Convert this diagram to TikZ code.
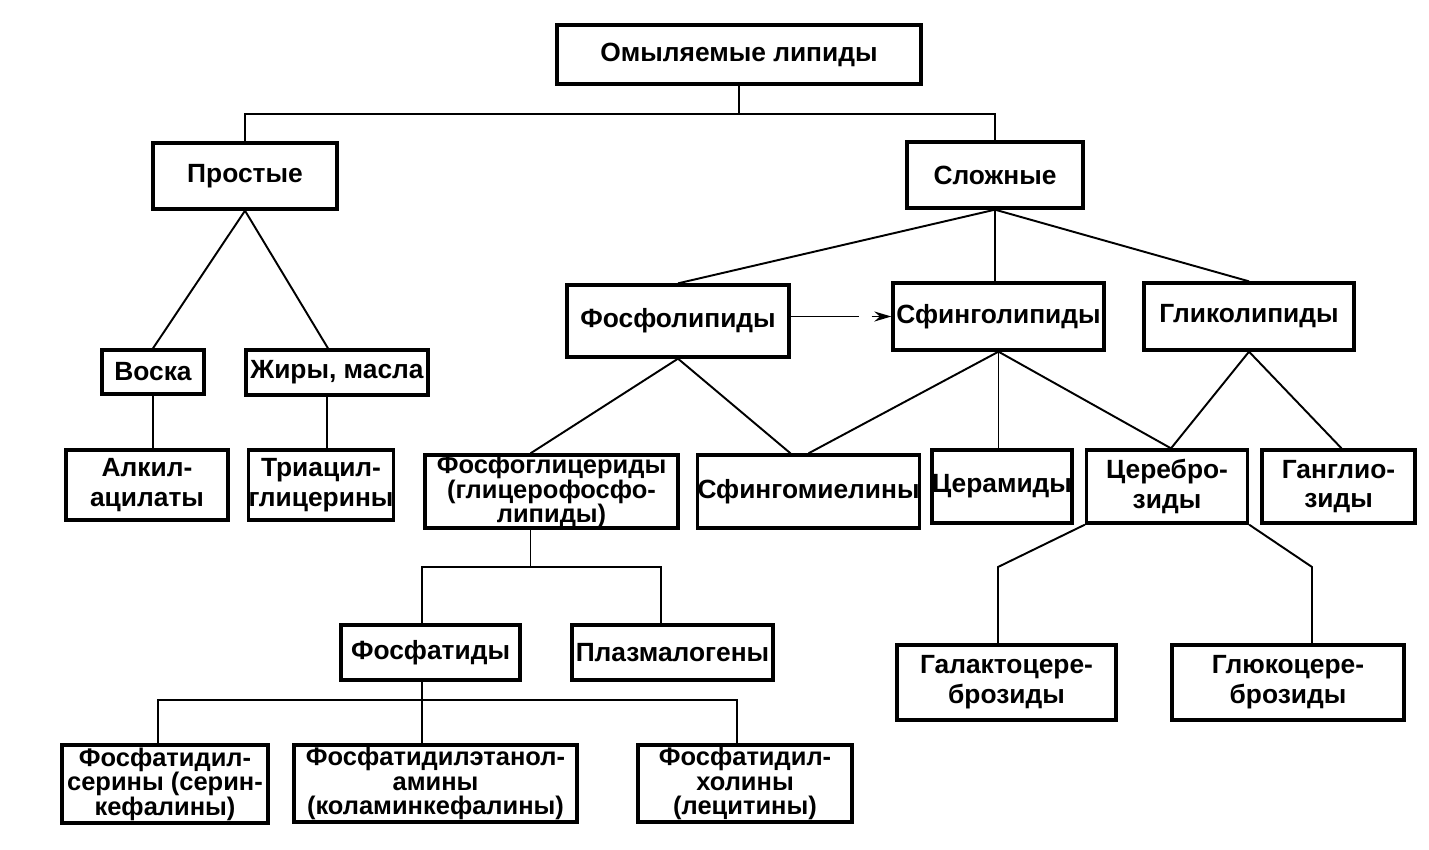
\documentclass[tikz,border=0pt]{standalone}
\usepackage{fontspec}
\setmainfont{Liberation Sans}
\usetikzlibrary{calc,arrows.meta}

\begin{document}
\begin{tikzpicture}[x=0.02cm, y=-0.02cm,
	lipid/.style={draw, line width=1.9pt, align=center, inner sep=0pt, font=\fontsize{15}{17}\selectfont\bfseries},
	tight/.style={font=\fontsize{14.5}{14}\selectfont\bfseries},
	link/.style={line width=1.1pt},
	dasharrow/.style={line width=1.1pt, dash pattern=on 1.36cm off 0.26cm, -{Stealth[length=0.34cm, width=0.2cm]}}]
			%%%%% START %%%%%
			
			\fill[white] (0, 0) rectangle (1429, 849);
			
			% top level
			\node[lipid, minimum width=7.28cm, minimum height=1.18cm] (top) at (739, 54.5) {Омыляемые липиды};
			\node[lipid, minimum width=3.68cm, minimum height=1.32cm] (simple) at (245, 176) {Простые};
			\node[lipid, minimum width=3.52cm, minimum height=1.32cm] (complex) at (995, 175) {Сложные};
			
			% simple lipids
			\node[lipid, minimum width=2.04cm, minimum height=0.88cm] (waxes) at (153, 372) {Воска};
			\node[lipid, minimum width=3.64cm, minimum height=0.90cm] (fats) at (337, 372.5) {Жиры, масла};
			\node[lipid, minimum width=3.24cm, minimum height=1.40cm] (alkyl) at (147, 485) {Алкил-\\ацилаты};
			\node[lipid, minimum width=2.84cm, minimum height=1.40cm] (triacyl) at (321, 485) {Триацил-\\глицерины};
			
			% complex lipids
			\node[lipid, minimum width=4.44cm, minimum height=1.44cm] (phlip) at (678, 321) {Фосфолипиды};
			\node[lipid, minimum width=4.22cm, minimum height=1.34cm] (sphlip) at (998.5, 316.5) {Сфинголипиды};
			\node[lipid, minimum width=4.20cm, minimum height=1.34cm] (glylip) at (1249, 316.5) {Гликолипиды};
			
			\node[lipid, tight, minimum width=5.06cm, minimum height=1.46cm] (phgly) at (551.5, 491.5) {Фосфоглицериды\\(глицерофосфо-\\липиды)};
			\node[lipid, minimum width=4.38cm, minimum height=1.46cm] (smy) at (808.5, 491.5) {Сфингомиелины};
			\node[lipid, minimum width=2.80cm, minimum height=1.46cm] (cer) at (1002, 486.5) {Церамиды};
			\node[lipid, minimum width=3.22cm, minimum height=1.46cm] (cbr) at (1167, 486.5) {Церебро-\\зиды};
			\node[lipid, minimum width=3.06cm, minimum height=1.46cm] (gang) at (1338.5, 486.5) {Ганглио-\\зиды};
			
			\node[lipid, minimum width=3.58cm, minimum height=1.10cm] (phtd) at (430.5, 652.5) {Фосфатиды};
			\node[lipid, minimum width=4.02cm, minimum height=1.10cm] (plsm) at (672.5, 652.5) {Плазмалогены};
			
			\node[lipid, tight, minimum width=4.12cm, minimum height=1.56cm] (ps) at (165, 784) {Фосфатидил-\\серины (серин-\\кефалины)};
			\node[lipid, tight, minimum width=5.66cm, minimum height=1.54cm] (pe) at (435.5, 783.5) {Фосфатидилэтанол-\\амины\\(коламинкефалины)};
			\node[lipid, tight, minimum width=4.28cm, minimum height=1.54cm] (pc) at (745, 783.5) {Фосфатидил-\\холины\\(лецитины)};
			
			\node[lipid, minimum width=4.38cm, minimum height=1.50cm] (gal) at (1006.5, 682.5) {Галактоцере-\\брозиды};
			\node[lipid, minimum width=4.64cm, minimum height=1.50cm] (glc) at (1288, 682.5) {Глюкоцере-\\брозиды};
			
			% bends of the connectors
			\coordinate (topbar) at (739, 114);
			\coordinate (pgl) at (422, 567);
			\coordinate (pgr) at (661, 567);
			\coordinate (fl) at (158, 700);
			\coordinate (fm) at (422, 700);
			\coordinate (fr) at (737, 700);
			\coordinate (cbl) at (998, 567);
			\coordinate (cbrr) at (1312, 567);
			
			\draw[link] (top.south) -- (topbar);
			\draw[link] (simple.north) |- (topbar) -| (complex.north);
			
			\draw[link] (simple.south) -- (waxes.north);
			\draw[link] (simple.south) -- ($(fats.north)+(-9, 0)$);
			\draw[link] (waxes.south) -- (waxes.south |- alkyl.north);
			\draw[link] ($(fats.south)+(-10, 0)$) -- ($(fats.south |- triacyl.north)+(-10, 0)$);
			
			\draw[link] (complex.south) -- (phlip.north);
			\draw[link] (complex.south) -- (complex.south |- sphlip.north);
			\draw[link] (complex.south) -- (glylip.north);
			\draw[dasharrow] (sphlip.west -| phlip.east) -- (sphlip.west);
			
			\draw[link] (phlip.south) -- ($(phgly.north)+(-21, 0)$);
			\draw[link] (phlip.south) -- ($(smy.north)+(-18, 0)$);
			\draw[link] (sphlip.south) -- (smy.north);
			\draw[link] (sphlip.south) -- (sphlip.south |- cer.north);
			\draw[link] (sphlip.south) -- ($(cbr.north)+(4, 0)$);
			\draw[link] (glylip.south) -- ($(cbr.north)+(4, 0)$);
			\draw[link] (glylip.south) -- ($(gang.north)+(3, 0)$);
			
			\draw[link] ($(phgly.south)+(-21, 0)$) -- ($(phgly.south |- pgl)+(-21, 0)$);
			\draw[link] (pgl |- phtd.north) -- (pgl) -- (pgr) -- (pgr |- plsm.north);
			
			\draw[link] (fm |- phtd.south) -- (fm |- pe.north);
			\draw[link] (fl |- ps.north) -- (fl) -- (fr) -- (fr |- pc.north);
			
			\draw[link] (cbr.south west) -- (cbl) -- (cbl |- gal.north);
			\draw[link] (cbr.south east) -- (cbrr) -- (cbrr |- glc.north);
			
			%%%%% END %%%%%
\end{tikzpicture}
\end{document}
